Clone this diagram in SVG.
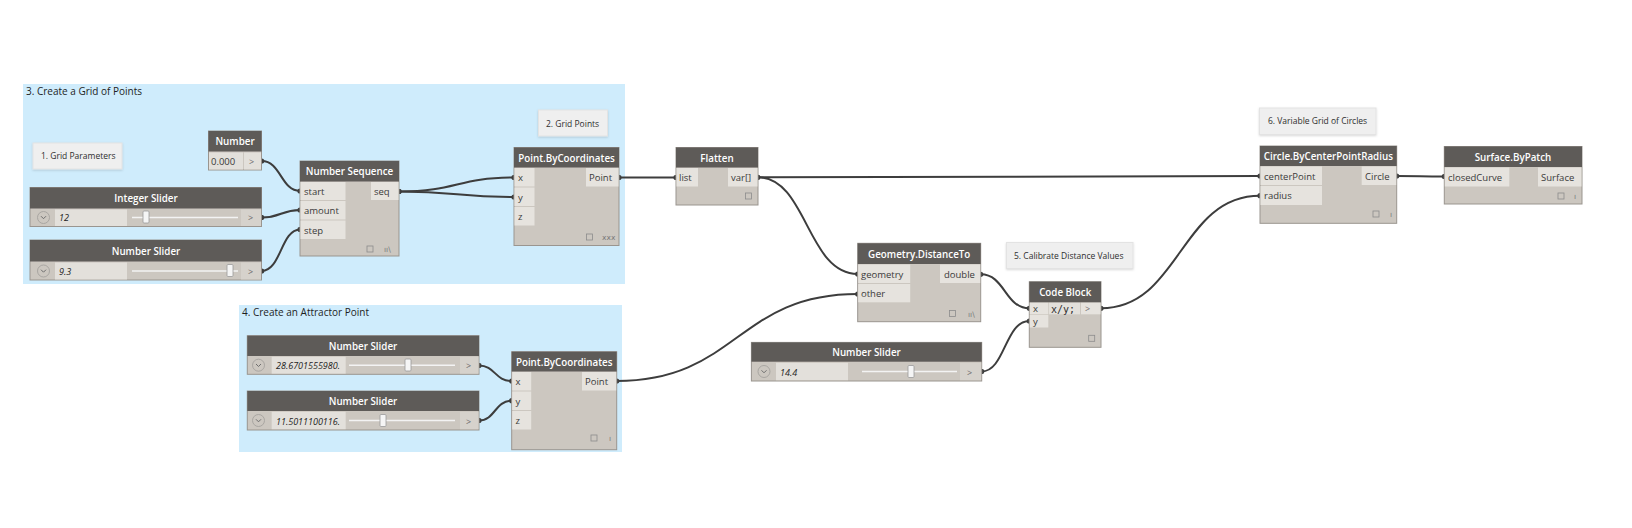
<svg xmlns="http://www.w3.org/2000/svg" width="1632" height="528" viewBox="0 0 1632 528">
<defs>
<style>
.grp{fill:#cfecfc}
.gt{font:10px "Open Sans",sans-serif;fill:#1e1e1e}
.nb{fill:#efefef;stroke:#e3e3e3;stroke-width:1}
.nt{font:8.5px "Open Sans",sans-serif;fill:#2e2e2e}
.body{fill:#ccc7c0;stroke:#9a958f;stroke-width:1}
.hd{fill:#5e5b58}
.pl{fill:#e6e3de}
.ob{fill:#e6e3de}
.ht{font:600 9.8px "Open Sans",sans-serif;fill:#ffffff;text-anchor:middle}
.pt{font:9.5px "Open Sans",sans-serif;fill:#3a3a3a}
.sv{font:italic 9px "Open Sans",sans-serif;fill:#1e1e1e}
.vb{fill:#e3e0db}
.gb{fill:#d6d2cc}
.gtx{font:9px "Open Sans",sans-serif;fill:#6a6a6a}
.trk{stroke:#f3f3f3;stroke-width:1.5}
.thm{fill:#f5f5f5;stroke:#9a9a9a;stroke-width:0.8}
.chc{fill:none;stroke:#a9a6a2;stroke-width:1}
.chv{fill:none;stroke:#6e6e6e;stroke-width:1}
.ico{fill:none;stroke:#8c8c8c;stroke-width:0.8}
.lt{font:7.5px "DejaVu Sans",sans-serif;fill:#7a7a7a}
.wire{fill:none;stroke:#3d3d3d;stroke-width:2;marker-start:url(#dot);marker-end:url(#dot)}
.code{font:10px "DejaVu Sans Mono",monospace;fill:#2e2e2e}
</style>
<marker id="dot" viewBox="0 0 6 6" refX="3" refY="3" markerWidth="3" markerHeight="3" markerUnits="strokeWidth"><circle cx="3" cy="3" r="2.6" fill="#3d3d3d"/></marker>
<filter id="sh" x="-10%" y="-20%" width="120%" height="150%"><feDropShadow dx="0" dy="1" stdDeviation="1.2" flood-color="#000" flood-opacity="0.15"/></filter>
</defs>
<rect width="1632" height="528" fill="#ffffff"/>

<g id="group-grid">
<rect class="grp" x="23" y="84" width="602" height="200"/>
<text class="gt" x="26" y="94.5">3. Create a Grid of Points</text>
</g>
<g id="group-attractor">
<rect class="grp" x="239" y="305" width="383" height="147"/>
<text class="gt" x="242" y="316">4. Create an Attractor Point</text>
</g>

<g id="note-grid-parameters">
<rect class="nb" x="33" y="143" width="89" height="26" filter="url(#sh)"/>
<text class="nt" x="41" y="159">1. Grid Parameters</text>
</g>
<g id="note-grid-points">
<rect class="nb" x="538.5" y="110" width="69" height="26" filter="url(#sh)"/>
<text class="nt" x="546" y="126.5">2. Grid Points</text>
</g>
<g id="note-calibrate">
<rect class="nb" x="1006.5" y="242.5" width="126.5" height="26" filter="url(#sh)"/>
<text class="nt" x="1014" y="258.5">5. Calibrate Distance Values</text>
</g>
<g id="note-circles">
<rect class="nb" x="1259.5" y="108" width="116.5" height="26.5" filter="url(#sh)"/>
<text class="nt" x="1268" y="124">6. Variable Grid of Circles</text>
</g>

<g id="connectors">
<path class="wire" d="M261.7,161 C281,161 281,191 300,191"/>
<path class="wire" d="M261.7,217.5 C281,217.5 281,210 300,210"/>
<path class="wire" d="M261.7,271 C281,271 281,229.5 300,229.5"/>
<path class="wire" d="M399,191.5 C457,191.5 457,177.5 514,177.5"/>
<path class="wire" d="M399,191.5 C457,191.5 457,197 514,197"/>
<path class="wire" d="M619,177.5 C647,177.5 647,177.5 676,177.5"/>
<path class="wire" d="M757.7,177.3 C1009,177.3 1009,176 1260,176"/>
<path class="wire" d="M757.7,177.3 C807,177.3 807,274 857.7,274"/>
<path class="wire" d="M616.7,381 C737,381 737,294 857.7,294"/>
<path class="wire" d="M479,365.5 C495,365.5 495,381 511.7,381"/>
<path class="wire" d="M479,420.5 C495,420.5 495,400.7 511.7,400.7"/>
<path class="wire" d="M980.7,274.3 C1005,274.3 1005,308.3 1029.3,308.3"/>
<path class="wire" d="M981.7,371.5 C1005,371.5 1005,321 1029.3,321"/>
<path class="wire" d="M1101,308.3 C1180,308.3 1180,195.7 1260,195.7"/>
<path class="wire" d="M1396.7,176 C1420,176 1420,176.5 1444.3,176.5"/>
</g>

<g id="node-number">
<rect class="body" x="208.5" y="131" width="53" height="39"/>
<rect class="hd" x="208.5" y="131" width="53" height="20.5"/>
<text class="ht" x="235" y="145">Number</text>
<rect class="vb" x="209" y="152.5" width="34" height="17"/>
<text class="pt" x="211" y="164.5" fill="#1e1e1e">0.000</text>
<rect class="vb" x="244" y="152.5" width="17" height="17"/>
<text class="gtx" x="249" y="164.5">&gt;</text>
</g>

<g id="node-integer-slider">
<rect class="body" x="30" y="187.5" width="231.5" height="39"/>
<rect class="hd" x="30" y="187.5" width="231.5" height="21"/>
<text class="ht" x="146" y="202">Integer Slider</text>
<circle class="chc" cx="43.5" cy="217.5" r="6"/>
<path class="chv" d="M41,216.2 L43.5,218.7 L46,216.2"/>
<rect class="vb" x="55" y="209.5" width="72" height="16.5"/>
<text class="sv" x="59" y="221">12</text>
<line class="trk" x1="132" y1="217.5" x2="238" y2="217.5"/>
<rect class="thm" x="143" y="211" width="6" height="12" rx="1"/>
<rect class="gb" x="241" y="209.5" width="20" height="16.5"/>
<text class="gtx" x="248" y="221">&gt;</text>
</g>

<g id="node-number-slider-step">
<rect class="body" x="30" y="240" width="231.5" height="40"/>
<rect class="hd" x="30" y="240" width="231.5" height="21.5"/>
<text class="ht" x="146" y="255">Number Slider</text>
<circle class="chc" cx="43.5" cy="271" r="6"/>
<path class="chv" d="M41,269.7 L43.5,272.2 L46,269.7"/>
<rect class="vb" x="55" y="262.5" width="72" height="17"/>
<text class="sv" x="59" y="274.5">9.3</text>
<line class="trk" x1="132" y1="271" x2="238" y2="271"/>
<rect class="thm" x="227" y="264.5" width="6" height="12" rx="1"/>
<rect class="gb" x="241" y="262.5" width="20" height="17"/>
<text class="gtx" x="248" y="274.5">&gt;</text>
</g>

<g id="node-number-sequence">
<rect class="body" x="300" y="161" width="99" height="95"/>
<rect class="hd" x="300" y="161" width="99" height="20.5"/>
<text class="ht" x="349.5" y="175">Number Sequence</text>
<rect class="pl" x="300.5" y="182" width="45" height="18"/>
<rect class="pl" x="300.5" y="201" width="45" height="18.5"/>
<rect class="pl" x="300.5" y="220.5" width="45" height="18.5"/>
<text class="pt" x="304" y="195">start</text>
<text class="pt" x="304" y="214">amount</text>
<text class="pt" x="304" y="233.5">step</text>
<rect class="ob" x="371" y="182" width="27.5" height="18"/>
<text class="pt" x="374" y="195">seq</text>
<rect class="ico" x="367" y="246" width="6" height="6"/>
<text class="lt" x="384" y="252">ıı\</text>
</g>

<g id="node-point-grid">
<rect class="body" x="514" y="147.5" width="105" height="98"/>
<rect class="hd" x="514" y="147.5" width="105" height="20"/>
<text class="ht" x="566.5" y="161.5">Point.ByCoordinates</text>
<rect class="pl" x="514.5" y="168" width="20" height="18.5"/>
<rect class="pl" x="514.5" y="187.5" width="20" height="18.5"/>
<rect class="pl" x="514.5" y="207" width="20" height="18.5"/>
<text class="pt" x="518" y="181">x</text>
<text class="pt" x="518" y="200.5">y</text>
<text class="pt" x="518" y="220">z</text>
<rect class="ob" x="586" y="168" width="32.5" height="18.5"/>
<text class="pt" x="589" y="181">Point</text>
<rect class="ico" x="586.5" y="234" width="6" height="6"/>
<text class="lt" x="602" y="240">xxx</text>
</g>

<g id="node-flatten">
<rect class="body" x="676" y="147.5" width="82" height="57.5"/>
<rect class="hd" x="676" y="147.5" width="82" height="20"/>
<text class="ht" x="717" y="161.5">Flatten</text>
<rect class="pl" x="676.5" y="168" width="21.5" height="18.5"/>
<text class="pt" x="679" y="181">list</text>
<rect class="ob" x="728" y="168" width="29.5" height="18.5"/>
<text class="pt" x="731" y="181">var[]</text>
<rect class="ico" x="745.5" y="193" width="6" height="6"/>
</g>

<g id="node-point-attractor">
<rect class="body" x="511.7" y="351.7" width="105" height="98"/>
<rect class="hd" x="511.7" y="351.7" width="105" height="19.8"/>
<text class="ht" x="564.2" y="365.5">Point.ByCoordinates</text>
<rect class="pl" x="512.2" y="372" width="19" height="18.5"/>
<rect class="pl" x="512.2" y="391.5" width="19" height="18.5"/>
<rect class="pl" x="512.2" y="411" width="19" height="18.5"/>
<text class="pt" x="515.5" y="385">x</text>
<text class="pt" x="515.5" y="404.5">y</text>
<text class="pt" x="515.5" y="424">z</text>
<rect class="ob" x="582" y="372" width="34.2" height="18.5"/>
<text class="pt" x="585" y="385">Point</text>
<rect class="ico" x="591" y="435" width="6" height="6"/>
<text class="lt" x="609" y="441">ı</text>
</g>

<g id="node-slider-ax">
<rect class="body" x="247.3" y="335.7" width="231.7" height="38.6"/>
<rect class="hd" x="247.3" y="335.7" width="231.7" height="20.3"/>
<text class="ht" x="363" y="350">Number Slider</text>
<circle class="chc" cx="258.5" cy="365.2" r="6"/>
<path class="chv" d="M256,364 L258.5,366.5 L261,364"/>
<rect class="vb" x="271.7" y="356.8" width="74" height="16.8"/>
<text class="sv" x="276" y="369">28.6701555980.</text>
<line class="trk" x1="349" y1="365.2" x2="455" y2="365.2"/>
<rect class="thm" x="405" y="359" width="6" height="12" rx="1"/>
<rect class="gb" x="460" y="356.8" width="18.5" height="16.8"/>
<text class="gtx" x="466" y="369">&gt;</text>
</g>

<g id="node-slider-ay">
<rect class="body" x="247.3" y="391" width="231.7" height="39"/>
<rect class="hd" x="247.3" y="391" width="231.7" height="20"/>
<text class="ht" x="363" y="405">Number Slider</text>
<circle class="chc" cx="258.5" cy="420.5" r="6"/>
<path class="chv" d="M256,419.3 L258.5,421.8 L261,419.3"/>
<rect class="vb" x="271.7" y="411.8" width="74" height="17.4"/>
<text class="sv" x="276" y="424.5">11.5011100116.</text>
<line class="trk" x1="349" y1="420.5" x2="455" y2="420.5"/>
<rect class="thm" x="380" y="414.5" width="6" height="12" rx="1"/>
<rect class="gb" x="460" y="411.8" width="18.5" height="17.4"/>
<text class="gtx" x="466" y="424.5">&gt;</text>
</g>

<g id="node-distance-to">
<rect class="body" x="857.7" y="243.3" width="123" height="78.4"/>
<rect class="hd" x="857.7" y="243.3" width="123" height="20.7"/>
<text class="ht" x="919.2" y="257.5">Geometry.DistanceTo</text>
<rect class="pl" x="858.2" y="264.5" width="52" height="18.5"/>
<rect class="pl" x="858.2" y="284" width="52" height="18.3"/>
<text class="pt" x="861" y="277.5">geometry</text>
<text class="pt" x="861" y="297">other</text>
<rect class="ob" x="940" y="264.5" width="40.2" height="18.5"/>
<text class="pt" x="944" y="277.5">double</text>
<rect class="ico" x="949.5" y="310.5" width="6" height="6"/>
<text class="lt" x="968" y="316.5">ıı\</text>
</g>

<g id="node-slider-divisor">
<rect class="body" x="751.4" y="342.4" width="230.3" height="38.6"/>
<rect class="hd" x="751.4" y="342.4" width="230.3" height="19.3"/>
<text class="ht" x="866.5" y="356">Number Slider</text>
<circle class="chc" cx="764" cy="371.5" r="6"/>
<path class="chv" d="M761.5,370.3 L764,372.8 L766.5,370.3"/>
<rect class="vb" x="776" y="362.8" width="72" height="17.4"/>
<text class="sv" x="780" y="375.5">14.4</text>
<line class="trk" x1="862" y1="371.5" x2="957" y2="371.5"/>
<rect class="thm" x="908" y="365.5" width="6" height="12" rx="1"/>
<rect class="gb" x="960" y="362.8" width="21.2" height="17.4"/>
<text class="gtx" x="967" y="375.5">&gt;</text>
</g>

<g id="node-code-block">
<rect class="body" x="1029.3" y="281.7" width="71.7" height="65.6"/>
<rect class="hd" x="1029.3" y="281.7" width="71.7" height="20.6"/>
<text class="ht" x="1065.2" y="296">Code Block</text>
<rect class="pl" x="1029.8" y="302.8" width="18.5" height="11.5"/>
<rect class="pl" x="1029.8" y="315" width="18.5" height="12.5"/>
<text class="pt" x="1033" y="312.3" font-size="9">x</text>
<text class="pt" x="1033" y="324.8" font-size="9">y</text>
<rect class="vb" x="1049" y="302.8" width="31" height="11.5"/>
<text class="code" x="1051" y="312.5">x/y;</text>
<rect class="ob" x="1081" y="302.8" width="19.5" height="11.5"/>
<text class="gtx" x="1085" y="312.3">&gt;</text>
<rect class="ico" x="1088.7" y="335.3" width="6" height="6"/>
</g>

<g id="node-circle">
<rect class="body" x="1260" y="146" width="136.7" height="77.3"/>
<rect class="hd" x="1260" y="146" width="136.7" height="20"/>
<text class="ht" x="1328.3" y="160">Circle.ByCenterPointRadius</text>
<rect class="pl" x="1260.5" y="166.5" width="61.5" height="18.5"/>
<rect class="pl" x="1260.5" y="186" width="61.5" height="19"/>
<text class="pt" x="1264" y="179.5">centerPoint</text>
<text class="pt" x="1264" y="199">radius</text>
<rect class="ob" x="1361.7" y="166.5" width="34.5" height="18.5"/>
<text class="pt" x="1365" y="179.5">Circle</text>
<rect class="ico" x="1373" y="211" width="6" height="6"/>
<text class="lt" x="1390" y="217">ı</text>
</g>

<g id="node-surface">
<rect class="body" x="1444.3" y="146.5" width="137.7" height="57.5"/>
<rect class="hd" x="1444.3" y="146.5" width="137.7" height="20.5"/>
<text class="ht" x="1513" y="160.5">Surface.ByPatch</text>
<rect class="pl" x="1444.8" y="167.5" width="64.5" height="19"/>
<text class="pt" x="1448" y="180.5">closedCurve</text>
<rect class="ob" x="1538" y="167.5" width="43.5" height="19"/>
<text class="pt" x="1541" y="180.5">Surface</text>
<rect class="ico" x="1558" y="193" width="6" height="6"/>
<text class="lt" x="1574" y="199">ı</text>
</g>
</svg>
